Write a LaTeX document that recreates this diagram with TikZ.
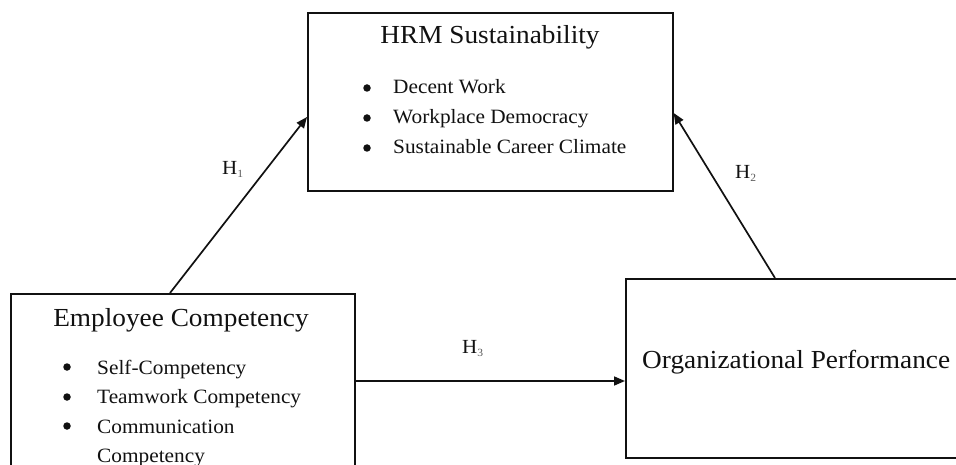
\documentclass[tikz,border=0pt]{standalone}
\usepackage{fontspec}
\setmainfont{Liberation Serif}[FakeStretch=1.05]
\usetikzlibrary{arrows.meta}
\definecolor{ink}{HTML}{111111}
\definecolor{subink}{HTML}{5A5A5A}
\begin{document}
\begin{tikzpicture}[x=1pt,y=-1pt,
  box/.style={draw=ink,line width=1.7pt,rectangle,inner sep=0pt,anchor=north west},
  title/.style={text=ink,inner sep=0pt,anchor=base,font=\fontsize{26}{30}\selectfont},
  item/.style={text=ink,inner sep=0pt,anchor=base west,font=\fontsize{20.3}{25}\selectfont},
  dot/.style={circle,fill=ink,inner sep=0pt,minimum size=7.5pt},
  hyp/.style={text=ink,inner sep=0pt,anchor=base west,font=\fontsize{20}{24}\selectfont},
  arr/.style={draw=ink,line width=1.7pt,-{Triangle[length=11pt,width=9pt]}}]
\useasboundingbox (0,0) rectangle (956,465);
\clip (0,0) rectangle (956,465);

% boxes
\node[box,minimum width=365pt,minimum height=178pt] (hrm) at (307,12) {};
\node[box,minimum width=344pt,minimum height=190pt] (emp) at (10,293) {};
\node[box,minimum width=345pt,minimum height=179pt] (org) at (625,278) {};

% HRM Sustainability
\node[title] (hrmt) at (490,44) {HRM Sustainability};
\node[dot] (hb1) at (367,88) {};
\node[item] (hi1) at (393,94) {Decent Work};
\node[dot] (hb2) at (367,118) {};
\node[item] (hi2) at (393,124) {Workplace Democracy};
\node[dot] (hb3) at (367,148) {};
\node[item] (hi3) at (393,154) {Sustainable Career Climate};

% Employee Competency
\node[title] (empt) at (181,326) {Employee Competency};
\node[dot] (eb1) at (67,367) {};
\node[item] (ei1) at (97,374) {Self-Competency};
\node[dot] (eb2) at (67,397) {};
\node[item] (ei2) at (97,403) {Teamwork Competency};
\node[dot] (eb3) at (67,426) {};
\node[item] (ei3) at (97,433) {Communication};
\node[item] (ei4) at (97,462) {Competency};

% Organizational Performance
\node[title,anchor=base west] (orgt) at (642,368) {Organizational Performance};

% hypotheses
\draw[arr] ([xshift=160pt]emp.north west) -- ([yshift=-105pt]hrm.north west);
\draw[arr] ([xshift=150pt]org.north west) -- ([yshift=-101pt]hrm.north east);
\draw[arr] ([yshift=-88pt]emp.north east) -- ([yshift=-103pt]org.north west);

\node[hyp] (h1) at (222,175) {H\raisebox{-3pt}{\textcolor{subink}{\fontsize{11}{11}\selectfont 1}}};
\node[hyp] (h2) at (735,179) {H\raisebox{-3pt}{\textcolor{subink}{\fontsize{11}{11}\selectfont 2}}};
\node[hyp] (h3) at (462,353) {H\raisebox{-3pt}{\textcolor{subink}{\fontsize{11}{11}\selectfont 3}}};
\end{tikzpicture}
\end{document}
